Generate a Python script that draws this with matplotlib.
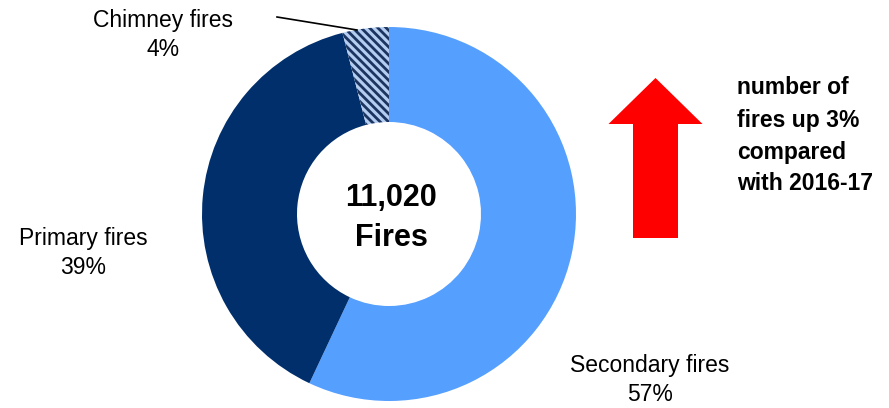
import matplotlib.pyplot as plt
from matplotlib.patches import FancyArrow

plt.rcParams['font.family'] = ['Liberation Sans', 'DejaVu Sans']
plt.rcParams['hatch.linewidth'] = 2.0
plt.rcParams['hatch.color'] = '#1c3560'

# data
categories = ['Secondary fires', 'Primary fires', 'Chimney fires']
shares = [57, 39, 4]
total_fires = '11,020'
colors = ['#559fff', '#002f6c', '#b4cdf0']

fig = plt.figure(figsize=(8.89, 4.08), dpi=100)
ax = fig.add_axes([0, 0, 1, 1])

wedges, _ = ax.pie(shares, colors=colors, startangle=90, counterclock=False,
                   center=(389, 194), radius=187,
                   wedgeprops=dict(width=95, linewidth=0))
# hatched chimney slice
wedges[2].set_hatch('\\\\\\\\')
wedges[2].set_edgecolor('#1c3560')
wedges[2].set_linewidth(0)

# pie() resets the limits, so set them afterwards
ax.set_xlim(0, 889)
ax.set_ylim(0, 408)
ax.set_aspect('equal')
ax.axis('off')

# labels
lab_size = 16.5
ax.text(163, 373, 'Chimney fires\n%d%%' % shares[2], ha='center', va='center',
        fontsize=lab_size, linespacing=1.35)
ax.plot([277, 357], [391, 378], color='black', lw=1.2)
ax.text(83, 155, 'Primary fires\n%d%%' % shares[1], ha='center', va='center',
        fontsize=lab_size, linespacing=1.35)
ax.text(650, 28, 'Secondary fires\n%d%%' % shares[0], ha='center', va='center',
        fontsize=lab_size, linespacing=1.35)

ax.text(391, 190, total_fires + '\nFires', ha='center', va='center',
        fontsize=22, fontweight='bold', linespacing=1.45)

# red arrow
ax.add_patch(FancyArrow(655.5, 170, 0, 160, width=45, head_width=94,
                        head_length=46, length_includes_head=True,
                        color='#ff0000', linewidth=0))
ax.text(737, 272, 'number of\nfires up 3%\ncompared\nwith 2016-17',
        ha='left', va='center', fontsize=16.5, fontweight='bold',
        linespacing=1.5)

fig.savefig('out.png', dpi=100)
